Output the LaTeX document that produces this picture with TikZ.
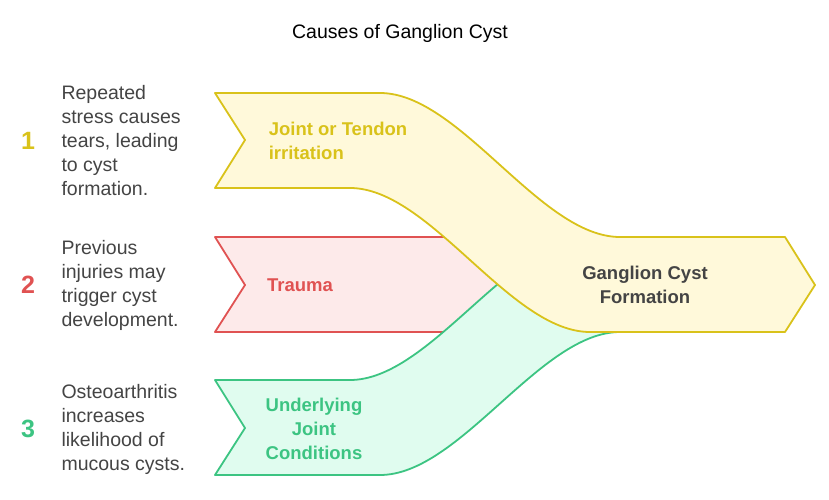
\documentclass[tikz,border=0pt]{standalone}
\usepackage{fontspec}
\setmainfont{Liberation Sans}
\definecolor{ylwline}{HTML}{D9C21A}
\definecolor{ylwfill}{HTML}{FFF9DA}
\definecolor{redline}{HTML}{E05252}
\definecolor{redfill}{HTML}{FDEAEA}
\definecolor{grnline}{HTML}{3CC482}
\definecolor{grnfill}{HTML}{E0FCEF}
\definecolor{txtgray}{HTML}{444444}
\tikzset{
  band/.style={line width=1.8pt, line join=round},
  desc/.style={anchor=west, align=left, text=txtgray, font=\fontsize{19.5}{24}\selectfont},
  num/.style={font=\fontsize{25}{25}\selectfont\bfseries},
  lbl/.style={font=\fontsize{18.5}{24}\selectfont\bfseries}
}
\begin{document}
\begin{tikzpicture}[x=1pt,y=-1pt]
    \useasboundingbox (0,0) rectangle (829,500);

    % bands
    \draw[band, draw=redline, fill=redfill] (215,237) -- (600,237) -- (600,332) -- (215,332) -- (245,285) -- cycle;
    \draw[band, draw=grnline, fill=grnfill] (215,380) -- (350,380) .. controls (430,380) and (510,237) .. (590,237) -- (620,237) -- (620,332) .. controls (540,332) and (460,475) .. (380,475) -- (215,475) -- (245,428) -- cycle;
    \draw[band, draw=ylwline, fill=ylwfill] (215,93) -- (380,93) .. controls (460,93) and (540,237) .. (620,237) -- (785,237) -- (815,285) -- (785,332) -- (590,332) .. controls (510,332) and (430,188) .. (350,188) -- (215,188) -- (245,140) -- cycle;

    % title
    \node[text=black, font=\fontsize{19.5}{22}\selectfont] (title) at (400,33) {Causes of Ganglion Cyst};

    % labels
    \node[lbl, align=left, text=ylwline] (joint) at (338,141) {Joint or Tendon\\irritation};
    \node[lbl, text=redline] (trauma) at (300,285) {Trauma};
    \node[lbl, align=center, text=grnline] (under) at (314,429) {Underlying\\Joint\\Conditions};
    \node[lbl, align=center, text=txtgray] (gang) at (645,285) {Ganglion Cyst\\Formation};

    % numbers
    \node[num, text=ylwline] (n1) at (28,141) {1};
    \node[num, text=redline] (n2) at (28,285) {2};
    \node[num, text=grnline] (n3) at (28,429) {3};

    % descriptions
    \node[desc] (d1) at (58,141) {Repeated\\stress causes\\tears, leading\\to cyst\\formation.};
    \node[desc] (d2) at (58,285) {Previous\\injuries may\\trigger cyst\\development.};
    \node[desc] (d3) at (58,429) {Osteoarthritis\\increases\\likelihood of\\mucous cysts.};

\end{tikzpicture}
\end{document}
